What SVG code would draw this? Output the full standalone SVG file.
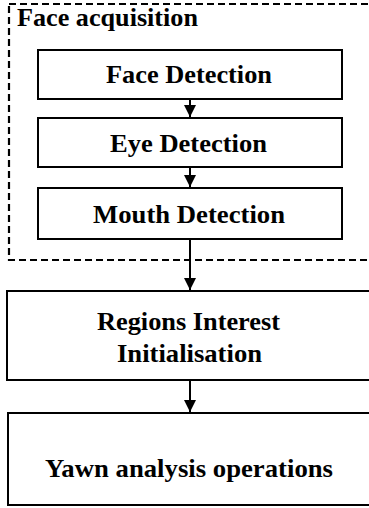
<svg xmlns="http://www.w3.org/2000/svg" width="369" height="508" viewBox="0 0 369 508">
<style>
.box{fill:#fff;stroke:#000;stroke-width:2}
.grp{fill:none;stroke:#000;stroke-width:2.2;stroke-dasharray:7 4}
.t{font-family:"Liberation Serif","Times New Roman",serif;font-weight:bold;font-size:26px;fill:#000;text-anchor:middle}
.lbl{font-family:"Liberation Serif","Times New Roman",serif;font-weight:bold;font-size:26px;fill:#000}
.c{stroke:#000;stroke-width:2;fill:none}
</style>
<defs>
<marker id="ah" markerWidth="12" markerHeight="12" refX="12" refY="6" orient="auto" markerUnits="userSpaceOnUse">
<path d="M0,0 L12,6 L0,12 Z" fill="#000"/>
</marker>
</defs>
<g id="face-acquisition">
<rect class="grp" x="9" y="4" width="370" height="256"/>
<text class="lbl" x="17" y="26" textLength="181" lengthAdjust="spacingAndGlyphs">Face acquisition</text>
</g>
<g id="face-detection">
<rect class="box" x="38" y="50" width="304" height="49"/>
<text class="t" x="189" y="83" textLength="166" lengthAdjust="spacingAndGlyphs">Face Detection</text>
</g>
<g id="eye-detection">
<rect class="box" x="38" y="118" width="304" height="49"/>
<text class="t" x="188.5" y="152" textLength="157" lengthAdjust="spacingAndGlyphs">Eye Detection</text>
</g>
<g id="mouth-detection">
<rect class="box" x="38" y="188" width="304" height="51"/>
<text class="t" x="189" y="223" textLength="192" lengthAdjust="spacingAndGlyphs">Mouth Detection</text>
</g>
<g id="regions">
<rect class="box" x="7" y="291" width="370" height="89"/>
<text class="t" x="188.5" y="330" textLength="183" lengthAdjust="spacingAndGlyphs">Regions Interest</text>
<text class="t" x="189.5" y="362" textLength="145" lengthAdjust="spacingAndGlyphs">Initialisation</text>
</g>
<g id="yawn">
<rect class="box" x="8" y="413" width="370" height="92"/>
<text class="t" x="189" y="477" textLength="288" lengthAdjust="spacingAndGlyphs">Yawn analysis operations</text>
</g>
<g id="connectors">
<line class="c" x1="190" y1="99" x2="190" y2="117" marker-end="url(#ah)"/>
<line class="c" x1="190" y1="167" x2="190" y2="187" marker-end="url(#ah)"/>
<line class="c" x1="190" y1="239" x2="190" y2="290" marker-end="url(#ah)"/>
<line class="c" x1="190" y1="380" x2="190" y2="412" marker-end="url(#ah)"/>
</g>
</svg>
